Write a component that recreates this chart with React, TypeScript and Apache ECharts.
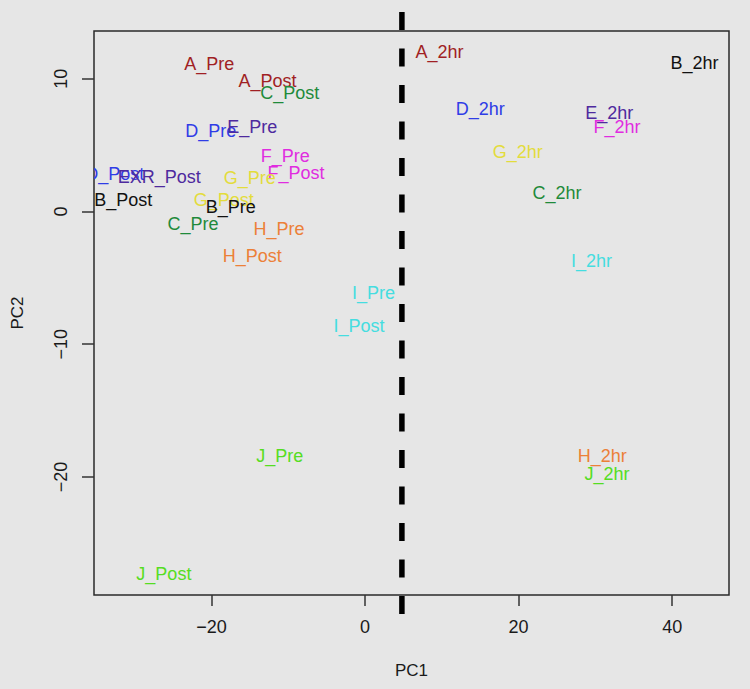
import React, { useEffect, useRef } from "react";
import * as echarts from "echarts";

const sampleNames = [
  "A_Pre", "A_Post", "C_Post", "D_Pre", "E_Pre", "F_Pre", "F_Post", "D_Post",
  "EXR_Post", "B_Post", "G_Pre", "G_Post", "B_Pre", "C_Pre", "H_Pre", "H_Post",
  "A_2hr", "B_2hr", "D_2hr", "E_2hr", "F_2hr", "G_2hr", "C_2hr", "I_2hr",
  "I_Pre", "I_Post", "J_Pre", "J_Post", "H_2hr", "J_2hr",
];
const pc1 = [
  -20.3, -12.7, -9.8, -20.1, -14.7, -10.4, -9.0, -32.6,
  -26.8, -31.5, -15.0, -18.4, -17.5, -22.4, -11.2, -14.7,
  9.7, 42.9, 15.0, 31.8, 32.8, 19.9, 25.0, 29.5,
  1.1, -0.8, -11.1, -26.2, 30.9, 31.5,
];
const pc2 = [
  11.1, 9.8, 8.9, 6.1, 6.35, 4.2, 2.9, 2.85,
  2.6, 0.85, 2.5, 0.85, 0.35, -0.95, -1.3, -3.35,
  12.0, 11.2, 7.7, 7.4, 6.35, 4.45, 1.4, -3.7,
  -6.15, -8.6, -18.4, -27.3, -18.4, -19.8,
];
const xTicks = [-20, 0, 20, 40];
const yTicks = [-20, -10, 0, 10];
const dividerX = 4.8;

const groupColors: Record<string, string> = {
  A: "#a01f24",
  B: "#111111",
  C: "#1f8a3a",
  D: "#2f3ce6",
  E: "#4e2a9e",
  EXR: "#4e2a9e",
  F: "#e02ce0",
  G: "#e3dc3c",
  H: "#ec8038",
  I: "#45dde0",
  J: "#55dd22",
};

const FONT = "'Liberation Sans', Arial, Helvetica, sans-serif";

export default function App() {
  const ref = useRef<HTMLDivElement>(null);
  useEffect(() => {
    if (!ref.current) return;
    const chart = echarts.init(ref.current, undefined, { renderer: "svg" });
    const data = sampleNames.map((n, i) => [pc1[i], pc2[i], n]);
    const grid = { left: 94, top: 31, right: 21, bottom: 94 };
    chart.setOption({
      animation: false,
      backgroundColor: "#e6e6e6",
      grid: {
        ...grid,
        show: true,
        borderColor: "#2a2a2a",
        borderWidth: 1.5,
        backgroundColor: "transparent",
      },
      xAxis: {
        type: "value",
        min: -35.3,
        max: 47.4,
        name: "PC1",
        nameLocation: "middle",
        nameGap: 67,
        nameTextStyle: { color: "#1a1a1a", fontSize: 17, fontFamily: FONT },
        axisLine: { show: false, onZero: false },
        splitLine: { show: false },
        axisTick: {
          show: true,
          customValues: xTicks,
          length: 11,
          lineStyle: { color: "#333", width: 1.5 },
        },
        axisLabel: {
          customValues: xTicks,
          margin: 23,
          color: "#1a1a1a",
          fontSize: 18,
          fontFamily: FONT,
          formatter: (v: number) => String(v).replace("-", "\u2212"),
        },
      },
      yAxis: {
        type: "value",
        min: -28.9,
        max: 13.6,
        name: "PC2",
        nameLocation: "middle",
        nameGap: 68,
        nameRotate: 90,
        nameTextStyle: { color: "#1a1a1a", fontSize: 17, fontFamily: FONT },
        axisLine: { show: false, onZero: false },
        splitLine: { show: false },
        axisTick: {
          show: true,
          customValues: yTicks,
          length: 12,
          lineStyle: { color: "#333", width: 1.5 },
        },
        axisLabel: {
          customValues: yTicks,
          rotate: 90,
          margin: 24,
          color: "#1a1a1a",
          fontSize: 18,
          fontFamily: FONT,
          formatter: (v: number) => String(v).replace("-", "\u2212"),
        },
      },
      series: [
        {
          type: "custom",
          clip: true,
          data,
          renderItem: (params: any, api: any) => {
            const p = api.coord([api.value(0), api.value(1)]);
            const name = sampleNames[params.dataIndex];
            const g = name.split("_")[0];
            return {
              type: "text",
              x: p[0],
              y: p[1],
              style: {
                text: name,
                fill: groupColors[g] || "#000",
                font: `18px ${FONT}`,
                align: "center",
                verticalAlign: "middle",
              },
            };
          },
        },
      ],
    });
    const px = chart.convertToPixel({ xAxisIndex: 0 }, dividerX) as number;
    const h = chart.getHeight();
    chart.setOption({
      graphic: [
        {
          type: "line",
          z: 100,
          shape: { x1: px, y1: grid.top - 19, x2: px, y2: h - grid.bottom + 20 },
          style: { stroke: "#000", lineWidth: 5.5, lineDash: [18, 18.5] },
        },
      ],
    });
    return () => chart.dispose();
  }, []);
  return (
    <div
      ref={ref}
      style={{ position: "fixed", left: 0, top: 0, width: 750, height: 689 }}
    />
  );
}
